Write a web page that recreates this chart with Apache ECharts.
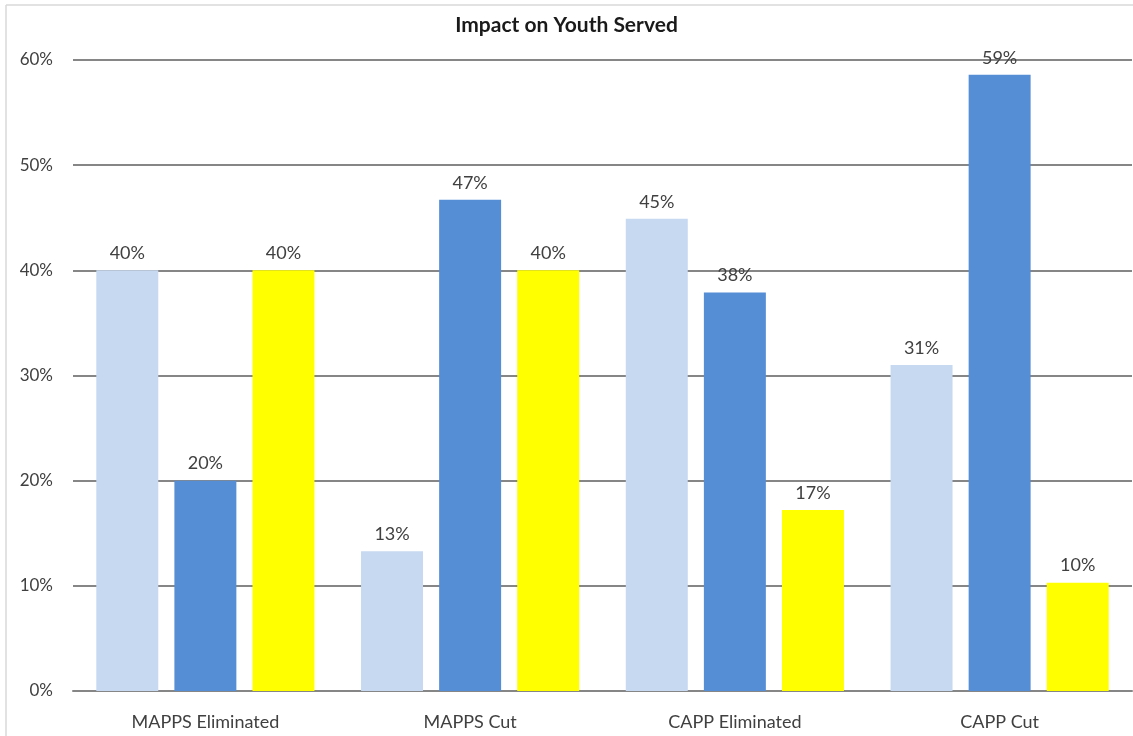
<!DOCTYPE html>
<html>
<head>
<meta charset="utf-8">
<script src="https://cdn.jsdelivr.net/npm/echarts@6/dist/echarts.min.js"></script>
<style>
html,body{margin:0;padding:0;background:#fff;}
#c{width:1133px;height:736px;}
</style>
</head>
<body>
<div id="c"></div>
<script>
const categories = ['MAPPS Eliminated', 'MAPPS Cut', 'CAPP Eliminated', 'CAPP Cut'];
const series1 = [40.0, 13.3, 44.9, 31.0];
const series2 = [20.0, 46.7, 37.9, 58.6];
const series3 = [40.0, 40.0, 17.2, 10.3];
const yTicks = [0, 10, 20, 30, 40, 50, 60];

const FONT = 'Lato, "Open Sans", sans-serif';
const chart = echarts.init(document.getElementById('c'));
const labelCfg = {
  show: true, position: 'top', distance: 8,
  color: '#404040', fontSize: 18, fontFamily: FONT,
  formatter: p => Math.round(p.value) + '%'
};
function mk(data, color) {
  return {
    type: 'bar', data: data, barGap: '26%', barCategoryGap: '17.6%',
    itemStyle: { color: color }, label: labelCfg, z: 3
  };
}
chart.setOption({
  animation: false,
  title: {
    text: 'Impact on Youth Served', left: 'center', top: 10,
    textStyle: { fontSize: 21, fontWeight: 'bold', color: '#1a1a1a', fontFamily: FONT }
  },
  grid: { left: 73, right: 1, top: 60, bottom: 45, containLabel: false },
  xAxis: {
    type: 'category', data: categories,
    axisLine: { lineStyle: { color: '#868686', width: 2 } },
    axisTick: { show: false },
    axisLabel: { color: '#404040', fontSize: 18, fontFamily: FONT, margin: 22 }
  },
  yAxis: {
    type: 'value', min: yTicks[0], max: yTicks[yTicks.length - 1], interval: 10,
    axisLine: { show: false }, axisTick: { show: false },
    splitLine: { lineStyle: { color: '#868686', width: 2 } },
    axisLabel: { color: '#404040', fontSize: 17, fontFamily: FONT, margin: 20, formatter: v => v + '%' }
  },
  graphic: [
    { type: 'line', shape: { x1: 6, y1: 5, x2: 1133, y2: 5 }, style: { stroke: '#d9d9d9', lineWidth: 1.5 } },
    { type: 'line', shape: { x1: 6, y1: 5, x2: 6, y2: 736 }, style: { stroke: '#d9d9d9', lineWidth: 1.5 } }
  ],
  series: [mk(series1, '#C6D9F1'), mk(series2, '#558ED5'), mk(series3, '#FFFF00')]
});
</script>
</body>
</html>
